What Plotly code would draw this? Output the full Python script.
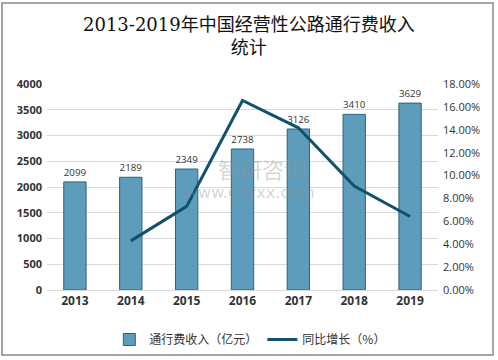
import plotly.graph_objects as go

years = ["2013", "2014", "2015", "2016", "2017", "2018", "2019"]
revenue = [2099, 2189, 2349, 2738, 3126, 3410, 3629]
growth = [None, 4.29, 7.31, 16.56, 14.17, 9.09, 6.42]
left_ticks = [0, 500, 1000, 1500, 2000, 2500, 3000, 3500, 4000]
right_ticks = [0, 2, 4, 6, 8, 10, 12, 14, 16, 18]
right_labels = [f"{v:.2f}%" for v in right_ticks]

W, H = 498, 360
L, R, T, B = 47, 60, 84, 70
pw, ph = W - L - R, H - T - B


def px(x):
    return (x - L) / pw


def py(y):
    return (H - B - y) / ph


fig = go.Figure()
fig.add_trace(go.Bar(
    x=years, y=revenue, name="通行费收入（亿元）",
    marker=dict(color="#5d9cbb", line=dict(color="#2f6278", width=1)),
    text=[str(v) for v in revenue], textposition="outside",
    textfont=dict(size=12, color="#333333", family="Open Sans, Noto Sans CJK SC"),
    cliponaxis=False,
))
fig.add_trace(go.Scatter(
    x=years, y=growth, name="同比增长（%）", yaxis="y2",
    mode="lines", line=dict(color="#10526c", width=3),
))

fig.update_layout(
    width=W, height=H,
    paper_bgcolor="white", plot_bgcolor="white",
    margin=dict(l=L, r=R, t=T, b=B, autoexpand=False),
    bargap=0.6,
    xaxis=dict(
        tickfont=dict(size=12, color="#333333", family="Open Sans, Noto Sans CJK SC", weight="bold"),
        showgrid=False, showline=True, linecolor="#d9d9d9", ticks="",
    ),
    yaxis=dict(
        range=[0, 4000], tickvals=left_ticks,
        tickfont=dict(size=11, color="#333333", family="Open Sans", weight="bold"),
        showgrid=True, gridcolor="#d9d9d9", gridwidth=1, zeroline=False,
        ticks="", ticklabelstandoff=4,
    ),
    yaxis2=dict(
        range=[0, 18], tickvals=right_ticks, ticktext=right_labels,
        overlaying="y", side="right", showgrid=False, zeroline=False,
        tickfont=dict(size=11, color="#333333", family="Open Sans"),
        ticklabelstandoff=4,
    ),
    legend=dict(
        orientation="h", x=0.52, xanchor="center", y=py(325), yanchor="top",
        font=dict(size=12, color="#333333", family="Noto Sans CJK SC"),
    ),
    showlegend=True,
    shapes=[dict(type="rect", xref="paper", yref="paper",
                 x0=px(2), x1=px(493), y0=py(355), y1=py(3),
                 line=dict(color="#888888", width=1.5))],
    annotations=[
        dict(text="2013-2019年中国经营性公路通行费收入<br>统计", x=px(249), y=py(36),
             xref="paper", yref="paper", showarrow=False, xanchor="center", yanchor="middle",
             font=dict(size=18, color="#111111", family="DejaVu Serif, Noto Sans CJK SC")),
        dict(text="智研咨询", x=px(262), y=py(168), xref="paper", yref="paper", showarrow=False,
             font=dict(size=22, color="rgba(150,150,150,0.4)", family="Noto Sans CJK SC")),
        dict(text="www.chyxx.com", x=px(249), y=py(192), xref="paper", yref="paper", showarrow=False,
             font=dict(size=16, color="rgba(150,150,150,0.4)", family="DejaVu Sans")),
    ],
)

fig.write_html("out.html", config={"displayModeBar": False},
               post_script="document.body.style.margin='0';document.body.style.padding='0';")
